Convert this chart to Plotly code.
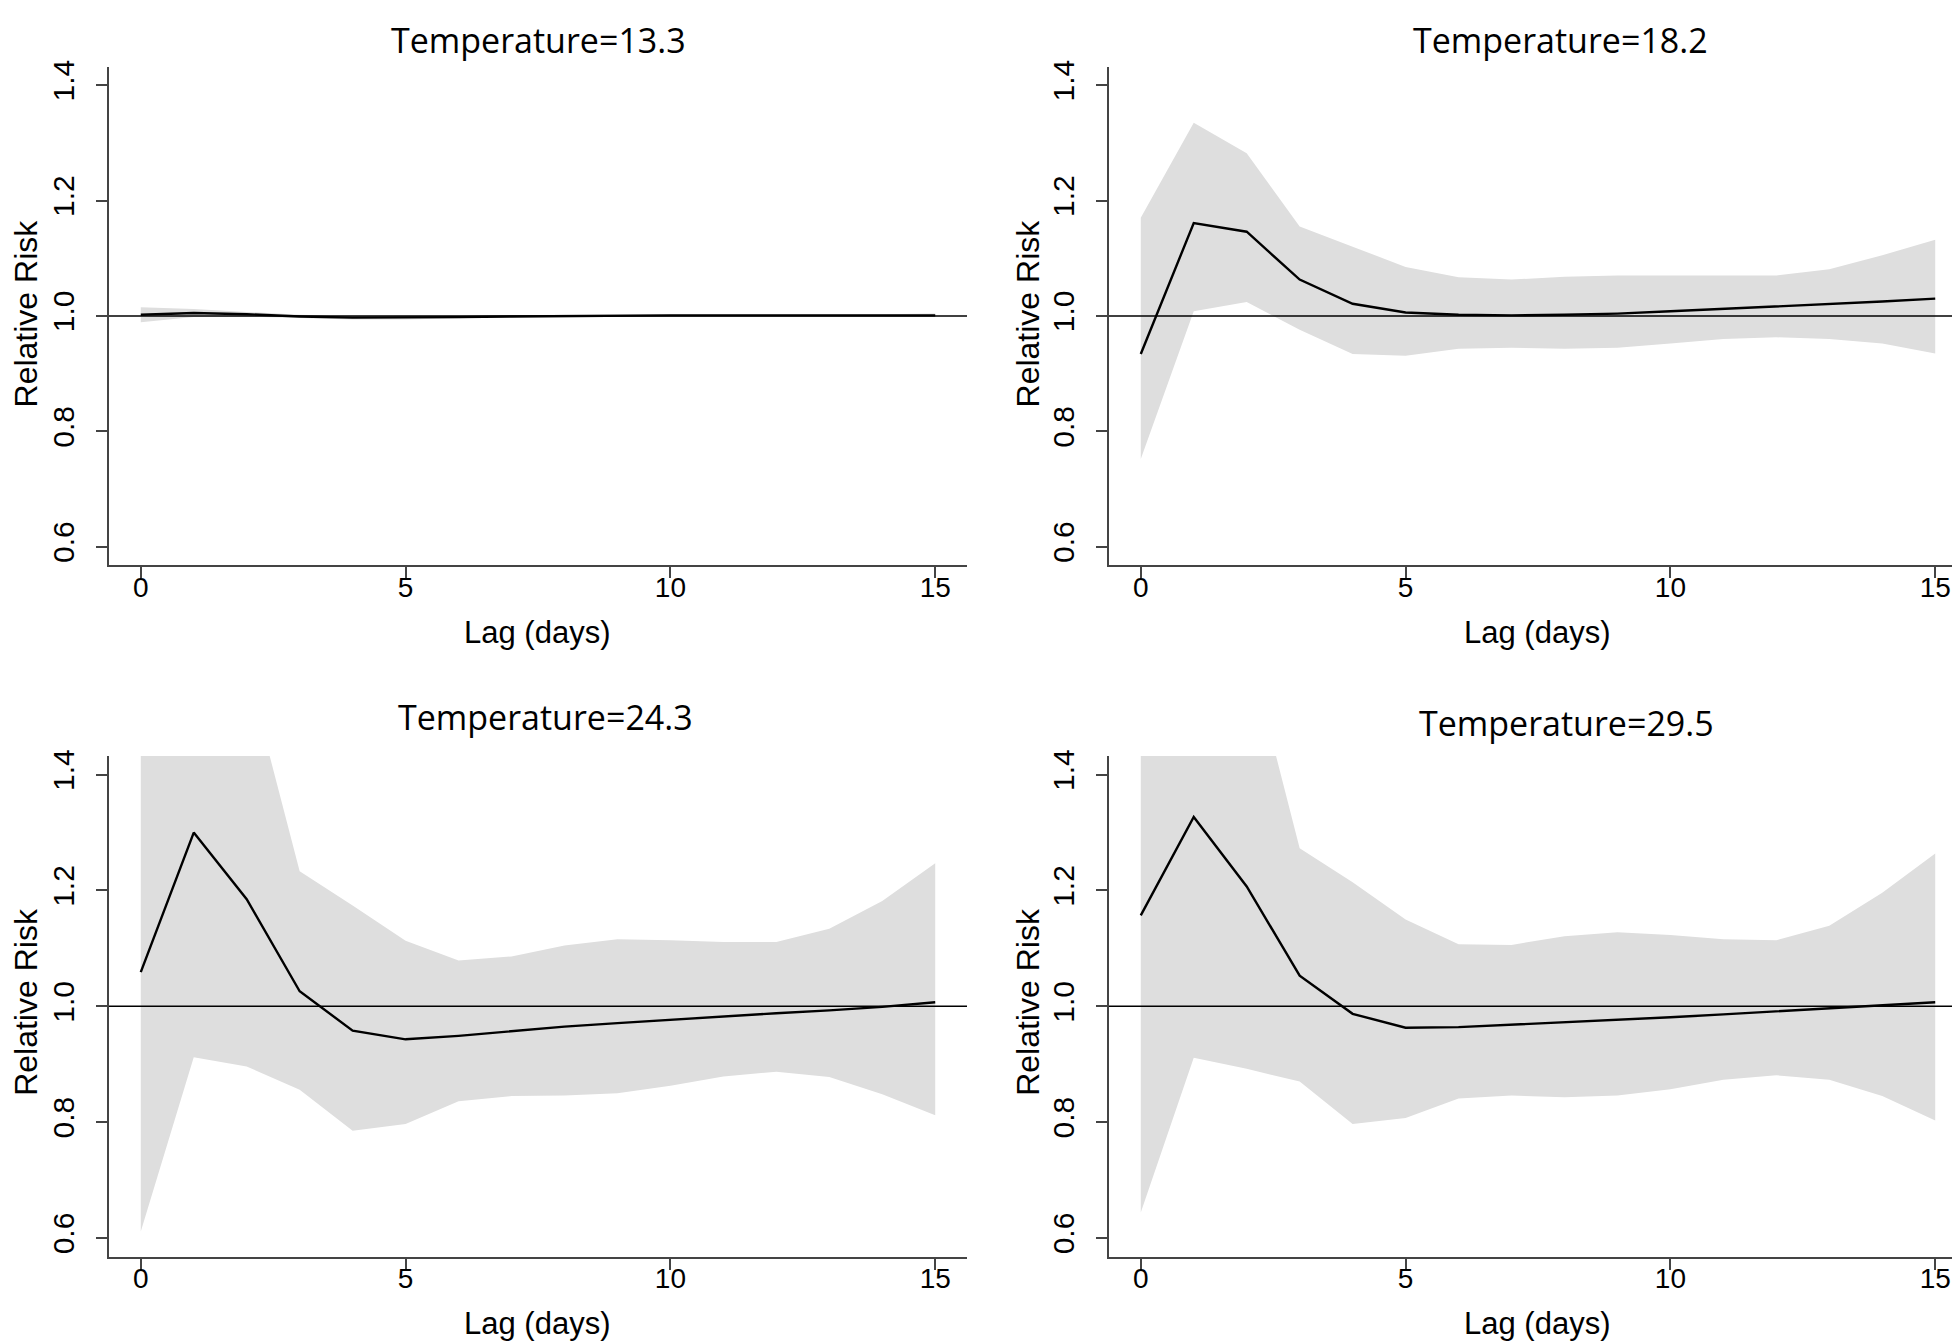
import plotly.graph_objects as go

# ---------------- data ----------------
lags = list(range(16))

titles = ["Temperature=13.3", "Temperature=18.2", "Temperature=24.3", "Temperature=29.5"]

rr_13 = [1.002, 1.005, 1.003, 0.999, 0.997, 0.997, 0.998, 0.999, 1.000, 1.001, 1.001, 1.001, 1.001, 1.001, 1.001, 1.001]
up_13 = [1.015, 1.012, 1.007, 1.002, 1.000, 1.000, 1.000, 1.001, 1.002, 1.002, 1.002, 1.002, 1.002, 1.002, 1.003, 1.004]
lo_13 = [0.989, 0.998, 0.999, 0.996, 0.994, 0.994, 0.996, 0.998, 0.999, 1.000, 1.000, 1.000, 1.000, 1.000, 0.999, 0.998]

rr_18 = [0.934, 1.161, 1.146, 1.063, 1.021, 1.006, 1.002, 1.001, 1.002, 1.004, 1.008, 1.012, 1.017, 1.021, 1.025, 1.030]
up_18 = [1.170, 1.335, 1.282, 1.155, 1.120, 1.085, 1.067, 1.063, 1.068, 1.070, 1.070, 1.070, 1.070, 1.081, 1.105, 1.132]
lo_18 = [0.752, 1.008, 1.024, 0.976, 0.934, 0.931, 0.943, 0.945, 0.943, 0.945, 0.952, 0.960, 0.963, 0.960, 0.952, 0.935]

rr_24 = [1.059, 1.300, 1.185, 1.026, 0.958, 0.943, 0.949, 0.957, 0.965, 0.971, 0.977, 0.982, 0.988, 0.993, 0.999, 1.007]
up_24 = [1.800, 1.850, 1.585, 1.233, 1.174, 1.113, 1.079, 1.086, 1.105, 1.116, 1.114, 1.111, 1.111, 1.134, 1.182, 1.247]
lo_24 = [0.611, 0.912, 0.896, 0.856, 0.785, 0.797, 0.836, 0.845, 0.846, 0.850, 0.863, 0.879, 0.887, 0.878, 0.848, 0.812]

rr_29 = [1.157, 1.327, 1.207, 1.053, 0.987, 0.963, 0.964, 0.968, 0.972, 0.977, 0.981, 0.986, 0.991, 0.996, 1.001, 1.007]
up_29 = [1.850, 1.900, 1.630, 1.273, 1.214, 1.150, 1.107, 1.106, 1.121, 1.128, 1.123, 1.116, 1.114, 1.139, 1.196, 1.264]
lo_29 = [0.644, 0.911, 0.892, 0.870, 0.797, 0.807, 0.841, 0.846, 0.843, 0.846, 0.857, 0.873, 0.881, 0.873, 0.845, 0.803]

x_ticks = [0, 5, 10, 15]
y_ticks = [0.6, 0.8, 1.0, 1.2, 1.4]
y_ticktext = ["0.6", "0.8", "1.0", "1.2", "1.4"]

panels = [(rr_13, up_13, lo_13), (rr_18, up_18, lo_18), (rr_24, up_24, lo_24), (rr_29, up_29, lo_29)]

# ---------------- layout geometry (pixels) ----------------
W, H = 1960, 1344
FONT = "Liberation Sans, Arial, sans-serif"
TITLE_FONT = "Open Sans, Noto Sans, sans-serif"
AXC = "#444444"

# plot areas: (x0, x1, ytop, ybottom)
areas = [(101, 959, 52, 553), (1101, 1959, 52, 553),
         (101, 959, 745, 1248), (1101, 1959, 745, 1248)]
title_pos = [(530, 25), (1552, 25), (537, 706), (1558, 712)]
xtitle_pos = [(529, 621), (1529, 621), (529, 1315), (1529, 1315)]
ytitle_pos = [(18, 300), (1020, 300), (18, 992), (1020, 992)]

fig = go.Figure()
layout = dict(width=W, height=H, autosize=False, margin=dict(l=0, r=0, t=0, b=0),
              paper_bgcolor="white", plot_bgcolor="white", showlegend=False,
              font=dict(family=FONT, color="black"))
annotations = []
shapes = []

for i, (rr, up, lo) in enumerate(panels):
    n = i + 1
    xa = "x" if n == 1 else f"x{n}"
    ya = "y" if n == 1 else f"y{n}"
    fig.add_trace(go.Scatter(x=lags + lags[::-1], y=up + lo[::-1], fill="toself",
                             fillcolor="#dedede", line=dict(width=0), mode="lines",
                             xaxis=xa, yaxis=ya, hoverinfo="skip"))
    fig.add_trace(go.Scatter(x=lags, y=rr, mode="lines", line=dict(color="black", width=2.4),
                             xaxis=xa, yaxis=ya))
    x0, x1, yt, yb = areas[i]
    xkey = "xaxis" if n == 1 else f"xaxis{n}"
    ykey = "yaxis" if n == 1 else f"yaxis{n}"
    layout[xkey] = dict(domain=[x0 / W, x1 / W], anchor=ya, range=[-0.6, 15.6],
                        tickvals=x_ticks, ticks="outside", ticklen=11, tickwidth=2, tickcolor=AXC,
                        showline=True, linecolor=AXC, linewidth=2, showgrid=False, zeroline=False,
                        tickfont=dict(size=28, family=FONT, color="black"), ticklabelstandoff=-15)
    layout[ykey] = dict(domain=[1 - yb / H, 1 - yt / H], anchor=xa, range=[0.568, 1.432],
                        tickvals=y_ticks, ticktext=y_ticktext, tickangle=-90,
                        ticks="outside", ticklen=11, tickwidth=2, tickcolor=AXC,
                        showline=True, linecolor=AXC, linewidth=2, showgrid=False, zeroline=False,
                        tickfont=dict(size=30, family=FONT, color="black"), ticklabelstandoff=10)
    shapes.append(dict(type="line", xref=f"{xa} domain", x0=0, x1=1, yref=ya, y0=1.0, y1=1.0,
                       line=dict(color="black", width=1.5), layer="above"))
    tx, ty = title_pos[i]
    annotations.append(dict(text=titles[i], x=tx / W, y=1 - ty / H, xref="paper", yref="paper",
                            xanchor="center", yanchor="middle", showarrow=False,
                            font=dict(size=34, family=TITLE_FONT, color="black")))
    lx, ly = xtitle_pos[i]
    annotations.append(dict(text="Lag (days)", x=lx / W, y=1 - ly / H, xref="paper", yref="paper",
                            xanchor="center", yanchor="middle", showarrow=False,
                            font=dict(size=31, family=FONT, color="black")))
    rx, ry = ytitle_pos[i]
    annotations.append(dict(text="Relative Risk", x=rx / W, y=1 - ry / H, xref="paper", yref="paper",
                            xanchor="center", yanchor="middle", showarrow=False, textangle=-90,
                            font=dict(size=32, family=FONT, color="black")))

layout["annotations"] = annotations
layout["shapes"] = shapes
fig.update_layout(**layout)
fig.write_html("out.html")
